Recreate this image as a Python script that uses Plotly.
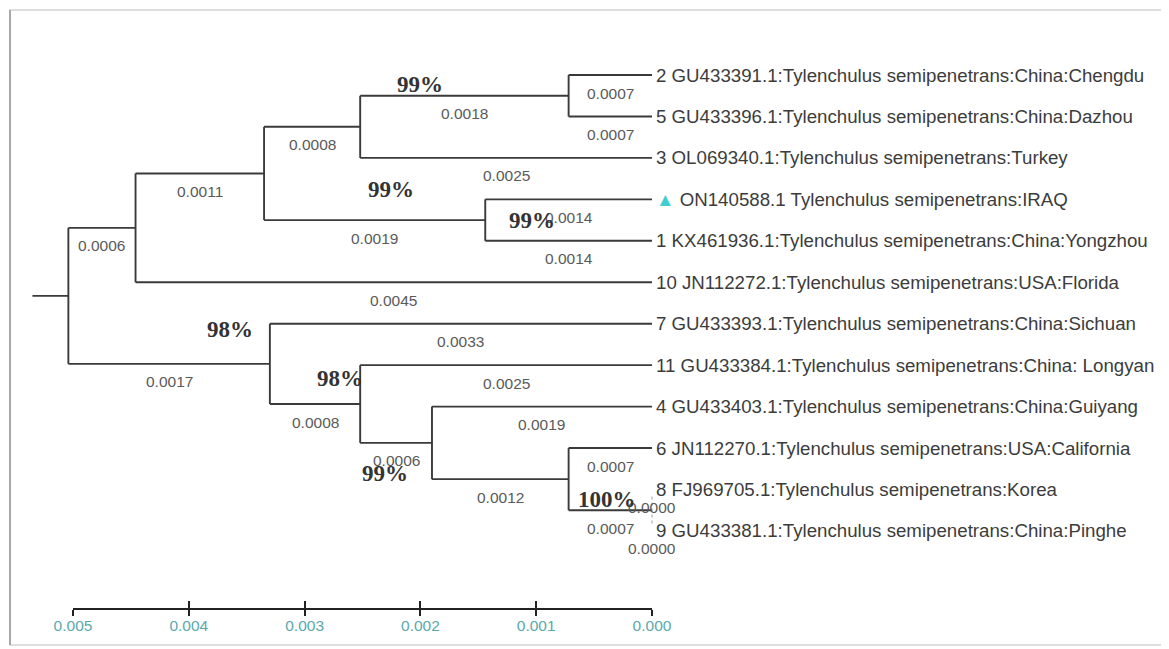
import plotly.graph_objects as go

# ---------------- data ----------------
leaf_labels = [
    "2 GU433391.1:Tylenchulus semipenetrans:China:Chengdu",
    "5 GU433396.1:Tylenchulus semipenetrans:China:Dazhou",
    "3 OL069340.1:Tylenchulus semipenetrans:Turkey",
    "ON140588.1 Tylenchulus semipenetrans:IRAQ",
    "1 KX461936.1:Tylenchulus semipenetrans:China:Yongzhou",
    "10 JN112272.1:Tylenchulus semipenetrans:USA:Florida",
    "7 GU433393.1:Tylenchulus semipenetrans:China:Sichuan",
    "11 GU433384.1:Tylenchulus semipenetrans:China: Longyan",
    "4 GU433403.1:Tylenchulus semipenetrans:China:Guiyang",
    "6 JN112270.1:Tylenchulus semipenetrans:USA:California",
    "8 FJ969705.1:Tylenchulus semipenetrans:Korea",
    "9 GU433381.1:Tylenchulus semipenetrans:China:Pinghe",
]
leaf_parents = ["E", "E", "C", "D", "D", "A", "F", "G", "H", "I", "J", "J"]
leaf_branch_labels = ["0.0007", "0.0007", "0.0025", "0.0014", "0.0014", "0.0045",
                      "0.0033", "0.0025", "0.0019", "0.0007", "0.0000", "0.0000"]
highlight_leaf = 3

node_names = ["R", "A", "B", "C", "D", "E", "F", "G", "H", "I", "J"]
node_parents = [None, "R", "A", "B", "B", "C", "R", "F", "G", "H", "I"]
node_heights = [0.00504, 0.00446, 0.00335, 0.00252, 0.00144, 0.00072,
                0.00330, 0.00252, 0.00190, 0.00072, 0.0]
node_branch_labels = [None, "0.0006", "0.0011", "0.0008", "0.0019", "0.0018",
                      "0.0017", "0.0008", "0.0006", "0.0012", "0.0007"]

bootstrap_nodes = ["C", "B", "D", "F", "G", "H", "I"]
bootstrap_labels = ["99%", "99%", "99%", "98%", "98%", "99%", "100%"]

scale_ticks = [0.005, 0.004, 0.003, 0.002, 0.001, 0.000]
scale_tick_labels = ["0.005", "0.004", "0.003", "0.002", "0.001", "0.000"]

# ---------------- style / layout constants ----------------
W, H = 1169, 649
OFF = 8                      # page body offset compensation
PX_PER_UNIT = 115800.0
ZERO_PX = 652 - OFF
ROW0_PX, ROW_PX = 75 - OFF, 41.45
root_stub = 0.00031
bootstrap_dx = [60, 127, 47, -40, -20, -47, 38]
bootstrap_dy = [-42, 16, 0, -34, -26, 31, 20]
LINE_COL = "#3a3a3a"
TXT_COL = "#3c3c3c"
LEN_COL = "#5a5a5a"
TEAL = "#5aa9aa"

# ---------------- tree geometry ----------------
height = dict(zip(node_names, node_heights))
children = {n: [] for n in node_names}
for i, p in enumerate(leaf_parents):
    children[p].append(("leaf", i))
for n, p in zip(node_names, node_parents):
    if p is not None:
        children[p].append(("node", n))

ypos = {}


def node_y(n):
    if n in ypos:
        return ypos[n]
    ys = [c[1] if c[0] == "leaf" else node_y(c[1]) for c in children[n]]
    ypos[n] = (min(ys) + max(ys)) / 2.0
    return ypos[n]


for n in node_names:
    node_y(n)

xs, ys = [], []
dx, dy = [], []
annotations = []
len_font = dict(family="Liberation Sans, Arial, sans-serif", size=15.5, color=LEN_COL)

# leaf branches
for i, p in enumerate(leaf_parents):
    ph = height[p]
    if ph > 0:
        xs += [ph, 0.0, None]
        ys += [i, i, None]
    annotations.append(dict(x=(ph + 0.0) / 2, y=i, text=leaf_branch_labels[i],
                            showarrow=False, yshift=-18, font=len_font))

# internal branches and verticals
for n, p, lab in zip(node_names, node_parents, node_branch_labels):
    h = height[n]
    y = ypos[n]
    if p is not None:
        xs += [height[p], h, None]
        ys += [y, y, None]
        annotations.append(dict(x=(height[p] + h) / 2, y=y, text=lab,
                                showarrow=False, yshift=-18, font=len_font))
    cy = [c[1] if c[0] == "leaf" else ypos[c[1]] for c in children[n]]
    if h > 0:
        xs += [h, h, None]
        ys += [min(cy), max(cy), None]
    else:
        dx += [h, h, None]
        dy += [min(cy) + 0.17, max(cy) - 0.17, None]

# root stub
xs += [height["R"] + root_stub, height["R"], None]
ys += [ypos["R"], ypos["R"], None]

fig = go.Figure()
fig.add_trace(go.Scatter(x=xs, y=ys, mode="lines",
                         line=dict(color=LINE_COL, width=1.9),
                         hoverinfo="skip", showlegend=False))
fig.add_trace(go.Scatter(x=dx, y=dy, mode="lines",
                         line=dict(color="#b0b0b0", width=1.2, dash="dot"),
                         hoverinfo="skip", showlegend=False))

# scale bar axes carriers (invisible)
fig.add_trace(go.Scatter(x=scale_ticks, y=[0] * len(scale_ticks), xaxis="x2", yaxis="y2",
                         mode="markers", marker=dict(opacity=0),
                         hoverinfo="skip", showlegend=False))
fig.add_trace(go.Scatter(x=scale_ticks, y=[0] * len(scale_ticks), xaxis="x3", yaxis="y2",
                         mode="markers", marker=dict(opacity=0),
                         hoverinfo="skip", showlegend=False))

# leaf labels
leaf_font = dict(family="Liberation Sans, Arial, sans-serif", size=18.7, color=TXT_COL)
for i, lab in enumerate(leaf_labels):
    text = lab
    if i == highlight_leaf:
        text = "<span style='color:#3fcfcf'>▲</span> " + lab
    annotations.append(dict(x=0.0, y=i, text=text, showarrow=False,
                            xanchor="left", xshift=2, font=leaf_font))

# bootstrap labels
bs_font = dict(family="Liberation Serif, Times New Roman, serif", size=23, color="#333333")
for n, lab, ox, oy in zip(bootstrap_nodes, bootstrap_labels, bootstrap_dx, bootstrap_dy):
    annotations.append(dict(x=height[n], y=ypos[n], text="<b>" + lab + "</b>",
                            showarrow=False, xshift=ox, yshift=-oy, font=bs_font))

# axis ranges mapped to pixels
x_left = ZERO_PX / PX_PER_UNIT
x_right = (ZERO_PX - W) / PX_PER_UNIT
y_top = -ROW0_PX / ROW_PX
y_bottom = (H - ROW0_PX) / ROW_PX

bar_left_px = ZERO_PX - scale_ticks[0] * PX_PER_UNIT
bar_y_px = 608 - OFF

fig.update_layout(
    width=W, height=H,
    margin=dict(l=0, r=0, t=0, b=0, pad=0, autoexpand=False),
    paper_bgcolor="white", plot_bgcolor="white",
    xaxis=dict(range=[x_left, x_right], visible=False, domain=[0, 1], automargin=False),
    yaxis=dict(range=[y_bottom, y_top], visible=False, domain=[0, 1], automargin=False),
    xaxis2=dict(domain=[bar_left_px / W, ZERO_PX / W], anchor="y2",
                range=[scale_ticks[0], scale_ticks[-1]], automargin=False,
                tickmode="array", tickvals=scale_ticks, ticktext=scale_tick_labels,
                showline=True, linecolor="#222222", linewidth=2,
                ticks="outside", ticklen=6, tickwidth=2, tickcolor="#222222",
                ticklabelstandoff=-4,
                tickfont=dict(family="Liberation Sans, Arial, sans-serif",
                              size=15.5, color=TEAL),
                showgrid=False, zeroline=False),
    xaxis3=dict(domain=[bar_left_px / W, ZERO_PX / W], anchor="y2",
                range=[scale_ticks[0], scale_ticks[-1]], automargin=False,
                tickmode="array", tickvals=scale_ticks, showticklabels=False,
                ticks="inside", ticklen=7, tickwidth=2, tickcolor="#222222",
                showline=False, showgrid=False, zeroline=False),
    yaxis2=dict(domain=[1 - bar_y_px / H, 1 - bar_y_px / H + 0.02], visible=False,
                range=[-1, 1], automargin=False),
    annotations=annotations,
    shapes=[
        dict(type="rect", xref="paper", yref="paper",
             x0=(10 - OFF) / W, x1=(1166 - OFF) / W,
             y0=1 - (645 - OFF) / H, y1=1 - (10 - OFF) / H,
             line=dict(color="#d4d4d4", width=1.5)),
        dict(type="line", xref="paper", yref="paper",
             x0=(10 - OFF) / W, x1=(10 - OFF) / W,
             y0=1 - (645 - OFF) / H, y1=1 - (10 - OFF) / H,
             line=dict(color="#a8a8a8", width=2)),
    ],
)

fig.write_html("out.html")
